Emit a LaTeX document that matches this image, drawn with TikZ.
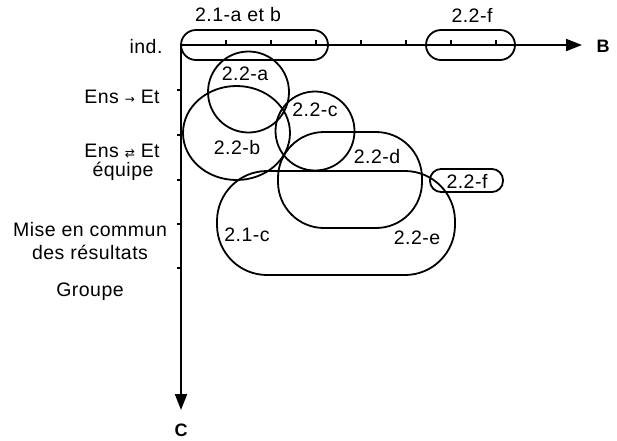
\documentclass[tikz,border=0pt]{standalone}
\usepackage{fontspec}
\setmainfont[LetterSpace=2.5]{Liberation Sans}
\newfontfamily\symfont{DejaVu Sans}
\usetikzlibrary{arrows.meta,shapes.geometric}
\newcommand{\smsym}[1]{{\symfont\fontsize{12}{12}\selectfont #1}}
\tikzset{
  blob/.style={draw, line width=1.8pt, inner sep=0pt, outer sep=0pt},
  rbox/.style={blob, rectangle},
  cblob/.style={blob, circle},
  eblob/.style={blob, ellipse},
  lbl/.style={inner sep=0pt, font=\fontsize{19.5}{21}\selectfont},
  axislbl/.style={inner sep=0pt, font=\fontsize{18}{20}\selectfont\bfseries},
  axis/.style={line width=2pt, -{Triangle[length=16pt,width=12pt]}},
  tick/.style={line width=1.2pt}
}
\begin{document}
\begin{tikzpicture}[x=1pt,y=-1pt]
\useasboundingbox (0,0) rectangle (617,440);
% axes
\coordinate (O) at (181,45);
\coordinate (Bt) at (582,45);
\coordinate (Ct) at (181,410);
\foreach \xx in {226,271,316,361,406,451,496} \draw[tick] (\xx,45) -- (\xx,40);
\foreach \yy in {90,135,180,224,268} \draw[tick] (181,\yy) -- (177,\yy);
\draw[axis] (O) -- (Bt);
\draw[axis] (O) -- (Ct);
\node[axislbl] (B) at (603,46) {B};
\node[axislbl] (C) at (181,430) {C};
% axis labels
\node[lbl] (ind) at (146,47) {ind.};
\node[lbl] (ens1) at (122,97) {Ens \smsym{→} Et};
\node[lbl] (ens2) at (122,151) {Ens \smsym{⇄} Et};
\node[lbl] (equipe) at (123,171) {équipe};
\node[lbl] (mise) at (90,230) {Mise en commun};
\node[lbl] (des) at (90,252) {des résultats};
\node[lbl] (groupe) at (90,292) {Groupe};
% shapes
\node[rbox, minimum width=147pt, minimum height=30pt, rounded corners=15pt] (s21ab) at (254.5,45) {};
\node[rbox, minimum width=89pt, minimum height=30pt, rounded corners=15pt] (s22ftop) at (470.5,45) {};
\node[cblob, minimum size=81pt] (c22a) at (248.5,92) {};
\node[eblob, minimum width=107pt, minimum height=94pt] (c22b) at (236.5,133) {};
\node[cblob, minimum size=79pt] (c22c) at (315,131) {};
\node[rbox, minimum width=144pt, minimum height=96pt, rounded corners=46pt] (s22d) at (350,180) {};
\node[rbox, minimum width=238pt, minimum height=104pt, rounded corners=50pt] (s22e) at (336,223) {};
\node[rbox, minimum width=73pt, minimum height=23pt, rounded corners=11pt] (s22f) at (466.5,180.5) {};
% labels
\node[lbl] (l21ab) at (238,15) {2.1-a et b};
\node[lbl] (l22ftop) at (472,15) {2.2-f};
\node[lbl] (l22a) at (245,74) {2.2-a};
\node[lbl] (l22b) at (237,148) {2.2-b};
\node[lbl] (l22c) at (315,110) {2.2-c};
\node[lbl] (l22d) at (377,157) {2.2-d};
\node[lbl] (l21c) at (247,235) {2.1-c};
\node[lbl] (l22e) at (417,238) {2.2-e};
\node[lbl] (l22f) at (467,181) {2.2-f};
\end{tikzpicture}
\end{document}
